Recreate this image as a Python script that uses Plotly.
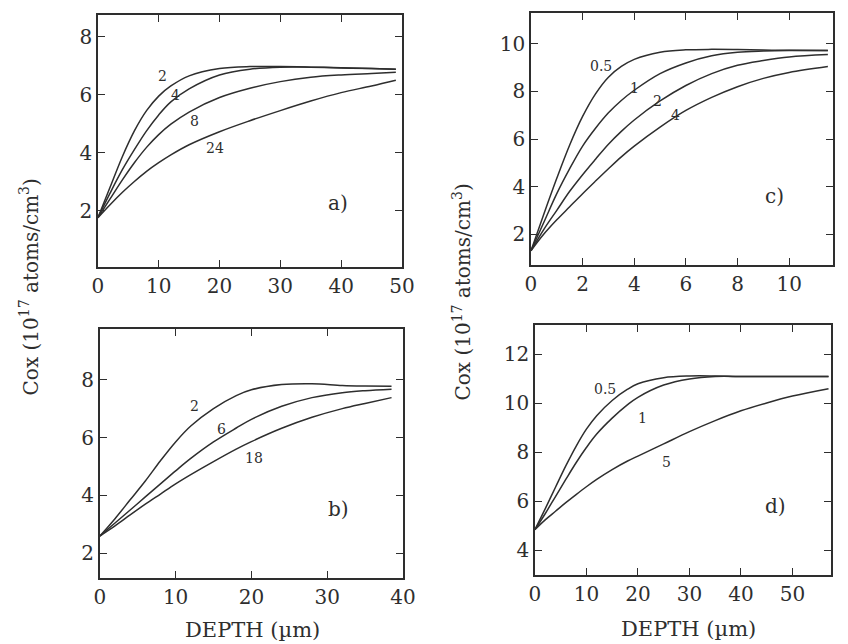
import plotly.graph_objects as go

# ---------------- data ----------------
# Panel a)
a_x = [0, 2, 4, 6, 8, 10, 12, 15, 20, 25, 30, 35, 40, 45, 49]
a_2 = [1.75, 2.8, 3.85, 4.75, 5.45, 5.95, 6.3, 6.65, 6.9, 6.97, 6.97, 6.95, 6.92, 6.9, 6.88]
a_4 = [1.75, 2.6, 3.4, 4.1, 4.75, 5.3, 5.75, 6.2, 6.68, 6.88, 6.95, 6.95, 6.93, 6.9, 6.88]
a_8 = [1.75, 2.4, 3.05, 3.65, 4.18, 4.62, 4.98, 5.4, 5.9, 6.22, 6.45, 6.6, 6.68, 6.73, 6.77]
a_24 = [1.75, 2.2, 2.62, 3.0, 3.35, 3.65, 3.92, 4.27, 4.72, 5.1, 5.45, 5.78, 6.07, 6.3, 6.5]

# Panel b)
b_x = [0, 2, 4, 6, 8, 10, 12, 15, 18, 20, 24, 28, 32, 35, 38.5]
b_2 = [2.6, 3.2, 3.85, 4.5, 5.2, 5.85, 6.4, 7.0, 7.45, 7.65, 7.83, 7.86, 7.8, 7.78, 7.77]
b_6 = [2.6, 3.05, 3.5, 3.95, 4.4, 4.85, 5.28, 5.85, 6.33, 6.63, 7.08, 7.38, 7.55, 7.62, 7.67]
b_18 = [2.6, 2.95, 3.33, 3.7, 4.05, 4.4, 4.72, 5.17, 5.6, 5.86, 6.32, 6.7, 7.0, 7.18, 7.38]

# Panel c)
c_x = [0, 0.5, 1, 1.5, 2, 2.5, 3, 3.5, 4, 5, 6, 7, 8, 9, 10, 11.5]
c_05 = [1.3, 2.85, 4.35, 5.75, 6.95, 7.9, 8.6, 9.05, 9.35, 9.65, 9.75, 9.77, 9.76, 9.74, 9.73, 9.72]
c_1 = [1.3, 2.5, 3.7, 4.75, 5.7, 6.45, 7.1, 7.62, 8.05, 8.75, 9.2, 9.5, 9.65, 9.7, 9.72, 9.72]
c_2 = [1.3, 2.2, 3.0, 3.8, 4.5, 5.15, 5.78, 6.32, 6.8, 7.6, 8.25, 8.75, 9.1, 9.3, 9.45, 9.55]
c_4 = [1.3, 2.0, 2.6, 3.15, 3.7, 4.23, 4.75, 5.25, 5.7, 6.5, 7.2, 7.75, 8.2, 8.55, 8.8, 9.05]

# Panel d)
d_x = [0, 2, 4, 6, 8, 10, 12, 15, 18, 20, 25, 30, 35, 40, 45, 50, 57]
d_05 = [4.85, 5.7, 6.58, 7.45, 8.25, 8.95, 9.5, 10.12, 10.58, 10.8, 11.05, 11.12, 11.12, 11.1, 11.1, 11.1, 11.1]
d_1 = [4.85, 5.5, 6.2, 6.9, 7.58, 8.2, 8.75, 9.4, 9.95, 10.25, 10.75, 11.0, 11.1, 11.1, 11.1, 11.1, 11.1]
d_5 = [4.85, 5.25, 5.6, 5.95, 6.28, 6.6, 6.9, 7.3, 7.65, 7.85, 8.35, 8.85, 9.3, 9.7, 10.02, 10.3, 10.6]

# labels
a_labels = [("2", 10.6, 6.65), ("4", 12.7, 6.0), ("8", 15.9, 5.1), ("24", 19.3, 4.15)]
b_labels = [("2", 12.5, 7.1), ("6", 16.0, 6.3), ("18", 20.3, 5.3)]
c_labels = [("0.5", 2.7, 9.05), ("1", 4.0, 8.15), ("2", 4.9, 7.6), ("4", 5.6, 7.0)]
d_labels = [("0.5", 13.6, 10.6), ("1", 20.8, 9.4), ("5", 25.6, 7.6)]
panel_tags = [("a)", 39.5, 2.25, "x", "y"), ("b)", 31.5, 3.55, "x2", "y2"),
              ("c)", 9.45, 3.6, "x3", "y3"), ("d)", 46.8, 5.8, "x4", "y4")]

y_title = "Cox (10<sup>17</sup> atoms/cm<sup>3</sup>)"
x_title = "DEPTH (\u00b5m)"

FONT = "DejaVu Serif"
INK = "#2e2e2e"

fig = go.Figure()

def add_curves(xs, series, xa, ya):
    for ys in series:
        fig.add_trace(go.Scatter(x=xs, y=ys, mode="lines", xaxis=xa, yaxis=ya,
                                 line=dict(color=INK, width=1.5, shape="spline", smoothing=1.0),
                                 showlegend=False, hoverinfo="skip"))

add_curves(a_x, [a_2, a_4, a_8, a_24], "x", "y")
add_curves(b_x, [b_2, b_6, b_18], "x2", "y2")
add_curves(c_x, [c_05, c_1, c_2, c_4], "x3", "y3")
add_curves(d_x, [d_05, d_1, d_5], "x4", "y4")

W, H = 848, 644

def xdom(l, r):
    return [l / W, r / W]

def ydom(t, b):
    return [1 - b / H, 1 - t / H]

def axis(domain, rng, tickvals, anchor):
    return dict(domain=domain, range=rng, tickvals=tickvals,
                ticktext=[("%g" % v) for v in tickvals],
                ticks="inside", ticklen=7, tickwidth=1.3, tickcolor=INK,
                showline=True, linecolor=INK, linewidth=1.5, mirror="ticks",
                showgrid=False, zeroline=False, anchor=anchor,
                tickfont=dict(family=FONT, size=20, color=INK))

annotations = []
for lab, xx, yy in a_labels:
    annotations.append(dict(text=lab, x=xx, y=yy, xref="x", yref="y"))
for lab, xx, yy in b_labels:
    annotations.append(dict(text=lab, x=xx, y=yy, xref="x2", yref="y2"))
for lab, xx, yy in c_labels:
    annotations.append(dict(text=lab, x=xx, y=yy, xref="x3", yref="y3"))
for lab, xx, yy in d_labels:
    annotations.append(dict(text=lab, x=xx, y=yy, xref="x4", yref="y4"))
for a in annotations:
    a.update(showarrow=False, xanchor="center", yanchor="middle",
             font=dict(family=FONT, size=14, color=INK))
for lab, xx, yy, xr, yr in panel_tags:
    annotations.append(dict(text=lab, x=xx, y=yy, xref=xr, yref=yr, showarrow=False,
                            xanchor="center", yanchor="middle",
                            font=dict(family=FONT, size=20, color=INK)))

common = dict(xref="paper", yref="paper", showarrow=False, xanchor="center", yanchor="middle")
annotations.append(dict(text=y_title, x=24 / W, y=1 - 287 / H, textangle=-90,
                        font=dict(family=FONT, size=20, color=INK), **common))
annotations.append(dict(text=y_title, x=466 / W, y=1 - 292 / H, textangle=-90,
                        font=dict(family=FONT, size=20, color=INK), **common))
annotations.append(dict(text=x_title, x=252 / W, y=1 - 630 / H,
                        font=dict(family=FONT, size=21, color=INK), **common))
annotations.append(dict(text=x_title, x=698 / W, y=1 - 629 / H,
                        font=dict(family=FONT, size=21, color=INK), **common))

fig.update_layout(
    width=W, height=H, margin=dict(l=0, r=0, t=0, b=0),
    paper_bgcolor="white", plot_bgcolor="white",
    xaxis=axis(xdom(94, 405), [0, 50], [0, 10, 20, 30, 40, 50], "y"),
    yaxis=axis(ydom(15, 267), [0.05, 8.75], [2, 4, 6, 8], "x"),
    xaxis2=axis(xdom(96, 406), [0, 40], [0, 10, 20, 30, 40], "y2"),
    yaxis2=axis(ydom(329, 578), [1.15, 9.75], [2, 4, 6, 8], "x2"),
    xaxis3=axis(xdom(537, 846), [0, 11.7], [0, 2, 4, 6, 8, 10], "y3"),
    yaxis3=axis(ydom(13, 265), [0.7, 11.3], [2, 4, 6, 8, 10], "x3"),
    xaxis4=axis(xdom(541, 844), [0, 57.5], [0, 10, 20, 30, 40, 50], "y4"),
    yaxis4=axis(ydom(325, 575), [3.0, 13.2], [4, 6, 8, 10, 12], "x4"),
    annotations=annotations,
)

fig.write_html("out.html")
